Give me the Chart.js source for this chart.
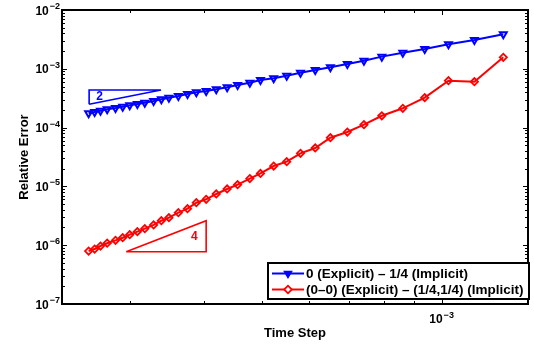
<!DOCTYPE html>
<html>
<head>
<meta charset="utf-8">
<script src="https://cdn.jsdelivr.net/npm/chart.js@4/dist/chart.umd.min.js"></script>
<style>
html,body{margin:0;padding:0;background:#fff;}
#wrap{width:534px;height:349px;}
</style>
</head>
<body>
<div id="wrap"><canvas id="c" width="534" height="349"></canvas></div>
<script>
// ---- data ----
const timeStep = [2.56e-4, 2.62e-4, 2.68e-4, 2.75e-4, 2.84e-4, 2.92e-4, 3.00e-4, 3.09e-4, 3.18e-4, 3.29e-4,
                  3.39e-4, 3.49e-4, 3.62e-4, 3.75e-4, 3.88e-4, 4.03e-4, 4.19e-4, 4.37e-4, 4.55e-4, 4.77e-4,
                  4.97e-4, 5.23e-4, 5.50e-4, 5.80e-4, 6.14e-4, 6.51e-4, 6.95e-4, 7.41e-4, 7.94e-4, 8.61e-4,
                  9.37e-4, 1.027e-3, 1.135e-3, 1.269e-3];
const errExplicit0 = [1.75e-4, 1.84e-4, 1.94e-4, 2.05e-4, 2.15e-4, 2.27e-4, 2.39e-4, 2.52e-4, 2.65e-4, 2.83e-4,
                      3.03e-4, 3.23e-4, 3.45e-4, 3.73e-4, 3.98e-4, 4.19e-4, 4.48e-4, 4.84e-4, 5.30e-4, 5.80e-4,
                      6.45e-4, 6.89e-4, 7.63e-4, 8.59e-4, 9.54e-4, 1.06e-3, 1.21e-3, 1.37e-3, 1.61e-3, 1.88e-3,
                      2.17e-3, 2.61e-3, 3.09e-3, 3.86e-3];
const errExplicit00 = [7.96e-7, 8.61e-7, 9.68e-7, 1.08e-6, 1.21e-6, 1.34e-6, 1.51e-6, 1.70e-6, 1.91e-6, 2.21e-6,
                       2.61e-6, 2.94e-6, 3.57e-6, 4.18e-6, 5.28e-6, 6.04e-6, 7.43e-6, 9.04e-6, 1.07e-5, 1.36e-5,
                       1.66e-5, 2.22e-5, 2.63e-5, 3.65e-5, 4.50e-5, 6.73e-5, 8.41e-5, 1.12e-4, 1.59e-4, 2.13e-4,
                       3.23e-4, 6.28e-4, 6.04e-4, 1.57e-3];
const seriesNames = ['0 (Explicit) \u2013 1/4 (Implicit)', '(0\u20130) (Explicit) \u2013 (1/4,1/4) (Implicit)'];
// slope triangles (data units)
const slope2X = [2.565e-4, 3.385e-4, 2.565e-4, 2.565e-4];
const slope2Y = [2.49e-4, 4.35e-4, 4.35e-4, 2.49e-4];
const slope2Label = {text: '2', x: 2.67e-4, y: 3.36e-4};
const slope4X = [2.96e-4, 4.03e-4, 4.03e-4, 2.96e-4];
const slope4Y = [7.74e-7, 7.74e-7, 2.61e-6, 7.74e-7];
const slope4Label = {text: '4', x: 3.85e-4, y: 1.40e-6};
// axes
const xRange = [2.31e-4, 1.396e-3];
const yRange = [1e-7, 1e-2];
const yTickExponents = [-7, -6, -5, -4, -3, -2];
const xTickExponents = [-3];
const xTitle = 'Time Step';
const yTitle = 'Relative Error';

const BLUE = '#0000ff', RED = '#ff0000';
const FONT = '"Liberation Sans", Arial, Helvetica, sans-serif';

const toXY = (xs, ys) => xs.map((v, i) => ({x: v, y: ys[i]}));

function drawPow(ctx, base, exp, x, y, align) {
  const bf = 'bold 12px ' + FONT, ef = 'bold 9px ' + FONT;
  ctx.font = bf; const bw = ctx.measureText(base).width;
  ctx.font = ef; const ew = ctx.measureText(exp).width;
  const total = bw + 1 + ew;
  let left = align === 'right' ? x - total : (align === 'center' ? x - total / 2 : x);
  ctx.textAlign = 'left'; ctx.textBaseline = 'alphabetic';
  ctx.font = bf; ctx.fillText(base, left, y + 4.5);
  ctx.font = ef; ctx.fillText(exp, left + bw + 1, y - 1);
}

const matlabAxes = {
  id: 'matlabAxes',
  afterDatasetsDraw(chart) {
    const {ctx, chartArea: a, scales: {x, y}} = chart;
    ctx.save();
    ctx.strokeStyle = '#000'; ctx.lineWidth = 1;
    for (let d = -7; d <= -2; d++) {
      for (let m = 1; m <= 9; m++) {
        const v = m * Math.pow(10, d);
        if (v < yRange[0] * 0.999 || v > yRange[1] * 1.001) continue;
        const py = Math.round(y.getPixelForValue(v)) + 0.5;
        const len = m === 1 ? 5 : 3;
        ctx.beginPath();
        ctx.moveTo(a.left, py); ctx.lineTo(a.left + len, py);
        ctx.moveTo(a.right, py); ctx.lineTo(a.right - len, py);
        ctx.stroke();
      }
    }
    for (let d = -4; d <= -3; d++) {
      for (let m = 1; m <= 9; m++) {
        const v = m * Math.pow(10, d);
        if (v < xRange[0] || v > xRange[1]) continue;
        const px = Math.round(x.getPixelForValue(v)) + 0.5;
        const len = m === 1 ? 5 : 3;
        ctx.beginPath();
        ctx.moveTo(px, a.bottom); ctx.lineTo(px, a.bottom - len);
        ctx.moveTo(px, a.top); ctx.lineTo(px, a.top + len);
        ctx.stroke();
      }
    }
    ctx.lineWidth = 2;
    ctx.strokeRect(a.left, a.top, a.right - a.left, a.bottom - a.top);
    ctx.fillStyle = '#000';
    yTickExponents.forEach(e => {
      const py = y.getPixelForValue(Math.pow(10, e));
      drawPow(ctx, '10', '\u2212' + Math.abs(e), a.left - 2, py, 'right');
    });
    xTickExponents.forEach(e => {
      const px = x.getPixelForValue(Math.pow(10, e));
      drawPow(ctx, '10', '\u2212' + Math.abs(e), px, 318.5, 'center');
    });
    ctx.font = 'bold 13px ' + FONT;
    ctx.textAlign = 'center'; ctx.textBaseline = 'alphabetic';
    ctx.fillText(xTitle, (a.left + a.right) / 2, 337);
    ctx.save();
    ctx.translate(28, (a.top + a.bottom) / 2);
    ctx.rotate(-Math.PI / 2);
    ctx.fillText(yTitle, 0, 0);
    ctx.restore();
    ctx.font = 'bold 12px ' + FONT;
    ctx.textBaseline = 'middle'; ctx.textAlign = 'center';
    ctx.fillStyle = BLUE;
    ctx.fillText(slope2Label.text, x.getPixelForValue(slope2Label.x), y.getPixelForValue(slope2Label.y));
    ctx.fillStyle = RED;
    ctx.fillText(slope4Label.text, x.getPixelForValue(slope4Label.x), y.getPixelForValue(slope4Label.y));
    ctx.restore();
  },
  afterDraw(chart) {
    const {ctx} = chart;
    ctx.save();
    const bx = 268, by = 263, bw = 261, bh = 36;
    ctx.fillStyle = '#fff';
    ctx.fillRect(bx, by, bw, bh);
    ctx.lineWidth = 2; ctx.strokeStyle = '#000';
    ctx.strokeRect(bx, by, bw, bh);
    const rows = [
      {name: seriesNames[0], color: BLUE, style: 'triangle', rot: 180, y: 273.5},
      {name: seriesNames[1], color: RED, style: 'rectRot', rot: 0, y: 289.5}
    ];
    rows.forEach(r => {
      ctx.strokeStyle = r.color; ctx.lineWidth = 2;
      ctx.beginPath(); ctx.moveTo(272, r.y); ctx.lineTo(304, r.y); ctx.stroke();
      ctx.fillStyle = r.style === 'triangle' ? r.color : '#fff';
      ctx.lineWidth = 1.8;
      Chart.helpers.drawPoint(ctx, {pointStyle: r.style, rotation: r.rot, radius: 3.8, borderWidth: 1.8}, 288, r.y);
      ctx.fillStyle = '#000';
      ctx.font = 'bold 13.5px ' + FONT;
      ctx.textAlign = 'left'; ctx.textBaseline = 'middle';
      ctx.fillText(r.name, 306, r.y + 0.5);
    });
    ctx.restore();
  }
};

const chart = new Chart(document.getElementById('c'), {
  type: 'line',
  data: {
    datasets: [
      {
        label: seriesNames[0],
        data: toXY(timeStep, errExplicit0),
        borderColor: BLUE, backgroundColor: 'rgba(0,0,0,0)',
        borderWidth: 2, pointStyle: 'triangle', rotation: 180,
        pointRadius: 4, pointBorderWidth: 2, pointBorderColor: BLUE,
        pointBackgroundColor: 'rgba(0,0,0,0)', tension: 0
      },
      {
        label: seriesNames[1],
        data: toXY(timeStep, errExplicit00),
        borderColor: RED, backgroundColor: 'rgba(0,0,0,0)',
        borderWidth: 2, pointStyle: 'rectRot',
        pointRadius: 3.6, pointBorderWidth: 1.8, pointBorderColor: RED,
        pointBackgroundColor: 'rgba(0,0,0,0)', tension: 0
      },
      {
        label: 'slope2',
        data: toXY(slope2X, slope2Y),
        borderColor: BLUE, borderWidth: 1.6, pointRadius: 0, tension: 0, fill: false
      },
      {
        label: 'slope4',
        data: toXY(slope4X, slope4Y),
        borderColor: RED, borderWidth: 1.6, pointRadius: 0, tension: 0, fill: false
      }
    ]
  },
  options: {
    responsive: false,
    animation: false,
    devicePixelRatio: 1,
    layout: {padding: {left: 62, top: 10, right: 3, bottom: 45}},
    plugins: {legend: {display: false}, tooltip: {enabled: false}},
    scales: {
      x: {type: 'logarithmic', min: xRange[0], max: xRange[1], display: false},
      y: {type: 'logarithmic', min: yRange[0], max: yRange[1], display: false}
    }
  },
  plugins: [matlabAxes]
});
</script>
</body>
</html>
